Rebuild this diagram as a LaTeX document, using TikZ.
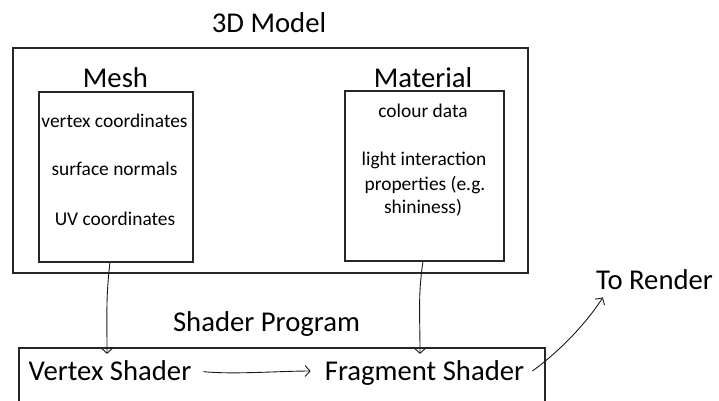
\documentclass[tikz,border=0pt]{standalone}
\usepackage{fontspec}
\setmainfont{Carlito}
\usetikzlibrary{arrows.meta,calc}
\tikzset{
  box/.style={draw=black!85, line width=1.8pt, rectangle, inner sep=0pt, anchor=north west},
  big/.style={inner sep=0pt, anchor=base, font=\fontsize{28.8}{34}\selectfont},
  small/.style={inner sep=0pt, anchor=base, font=\fontsize{19.5}{24}\selectfont},
  arr/.style={draw=black!90, line width=0.9pt, -{Straight Barb[length=5pt,width=11pt,line width=0.9pt]}}
}
\begin{document}
\begin{tikzpicture}[x=1bp,y=-1bp]
\clip (0,0) rectangle (719,400);
\useasboundingbox (0,0) rectangle (719,400);
% boxes
\node[box, minimum width=515bp, minimum height=225bp] (model) at (12,47) {};
\node[box, minimum width=154bp, minimum height=170bp] (meshbox) at (38,91) {};
\node[box, minimum width=159bp, minimum height=170bp] (matbox) at (344,90) {};
\node[box, minimum width=526bp, minimum height=90bp] (shaderbox) at (18,347) {};
% headings
\node[big] (title) at (269,32) {3D Model};
\node[big] (mesh) at (115.5,87) {Mesh};
\node[big] (material) at (423,87) {Material};
\node[big] (shader) at (266.5,331) {Shader Program};
\node[big] (vs) at (110,380) {Vertex Shader};
\node[big] (fs) at (424.5,380) {Fragment Shader};
\node[big] (tr) at (654.5,289) {To Render};
% mesh contents
\node[small] (m1) at (114.5,127) {vertex coordinates};
\node[small] (m2) at (114.5,175) {surface normals};
\node[small] (m3) at (115,225) {UV coordinates};
% material contents
\node[small] (t1) at (423,117) {colour data};
\node[small] (t2) at (424,165) {light interaction};
\node[small] (t3) at (425,190) {properties (e.g.};
\node[small] (t4) at (423,213) {shininess)};
% connectors
\draw[arr] ($(meshbox.south)+(-6,0)$) .. controls +(-4,35) and +(0,-40) .. ($(vs.north)+(-3,-6)$);
\draw[arr] ($(matbox.south)+(-1.5,0)$) .. controls +(-5,35) and +(0,-40) .. ($(fs.north)+(-4.5,-6)$);
\draw[arr] ($(vs.east)+(12,1.5)$) .. controls +(30,3) and +(-30,0) .. ($(fs.west)+(-14,-1.5)$);
\draw[arr] ($(fs.east)+(8,-1.5)$) .. controls +(25,-18) and +(-18,28) .. ($(tr.south west)+(7,8)$);
\end{tikzpicture}
\end{document}
